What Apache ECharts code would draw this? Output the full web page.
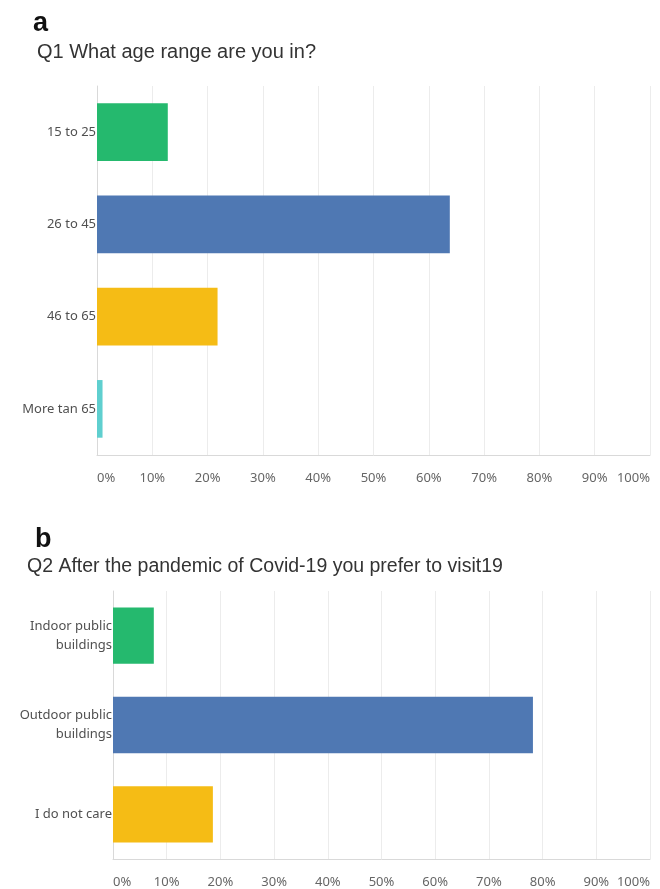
<!DOCTYPE html>
<html>
<head>
<meta charset="utf-8">
<title>Survey responses</title>
<script src="https://cdn.jsdelivr.net/npm/echarts@6/dist/echarts.min.js"></script>
<style>
  html, body { margin: 0; padding: 0; background: #ffffff; }
  #chart { width: 660px; height: 889px; }
</style>
</head>
<body>
<div id="chart"></div>
<script>
// Panel a: age ranges
const ageCategories = ['15 to 25', '26 to 45', '46 to 65', 'More tan 65'];
const ageShares = [12.8, 63.8, 21.8, 1.0];

// Panel b: preferred place to visit
const visitCategories = ['Indoor public\nbuildings', 'Outdoor public\nbuildings', 'I do not care'];
const visitShares = [7.6, 78.2, 18.6];

// Percent tick labels along both x axes
const percentTicks = [0, 10, 20, 30, 40, 50, 60, 70, 80, 90, 100];

const barColors = ['#25b96e', '#4f78b3', '#f5bc15', '#5fcfcf'];

const colored = (values) => values.map((v, i) => ({ value: v, itemStyle: { color: barColors[i] } }));

const labelFont = 'Noto Sans';
const titleFont = 'Liberation Sans';

function valueAxis(gridIndex) {
  return {
    type: 'value',
    gridIndex: gridIndex,
    min: percentTicks[0],
    max: percentTicks[percentTicks.length - 1],
    interval: percentTicks[1] - percentTicks[0],
    axisLine: { show: true, lineStyle: { color: '#d9d9d9', width: 1 } },
    axisTick: { show: false },
    splitLine: { show: true, lineStyle: { color: '#ececec', width: 1 } },
    axisLabel: {
      formatter: '{value}%',
      color: '#666666',
      fontFamily: labelFont,
      fontSize: 13,
      margin: 17,
      alignMinLabel: 'left',
      alignMaxLabel: 'right'
    }
  };
}

function categoryAxis(gridIndex, categories, lineHeight) {
  return {
    type: 'category',
    gridIndex: gridIndex,
    data: categories,
    inverse: true,
    axisLine: { show: true, lineStyle: { color: '#d9d9d9', width: 1 } },
    axisTick: { show: false },
    axisLabel: {
      color: '#505050',
      fontFamily: labelFont,
      fontSize: 13,
      margin: 1,
      lineHeight: lineHeight,
      align: 'right'
    }
  };
}

function heading(text, left, top, size, weight, color) {
  return {
    text: text,
    left: left,
    top: top,
    padding: 0,
    textStyle: { fontFamily: titleFont, fontSize: size, fontWeight: weight, color: color }
  };
}

const chart = echarts.init(document.getElementById('chart'), null, { renderer: 'canvas' });

chart.setOption({
  animation: false,
  backgroundColor: '#ffffff',
  title: [
    heading('a', 33, 10, 27, 'bold', '#111111'),
    heading('Q1 What age range are you in?', 37, 42, 20, 'normal', '#333333'),
    heading('b', 35, 526, 27, 'bold', '#111111'),
    heading('Q2 After the pandemic of Covid-19 you prefer to visit19', 27, 557, 19.5, 'normal', '#333333')
  ],
  grid: [
    { left: 97, right: 10, top: 86, height: 369, containLabel: false },
    { left: 113, right: 10, top: 591, height: 268, containLabel: false }
  ],
  xAxis: [valueAxis(0), valueAxis(1)],
  yAxis: [
    categoryAxis(0, ageCategories, 15),
    categoryAxis(1, visitCategories, 19)
  ],
  series: [
    {
      type: 'bar',
      xAxisIndex: 0,
      yAxisIndex: 0,
      data: colored(ageShares),
      barCategoryGap: '37.5%'
    },
    {
      type: 'bar',
      xAxisIndex: 1,
      yAxisIndex: 1,
      data: colored(visitShares),
      barCategoryGap: '37%'
    }
  ]
});
</script>
</body>
</html>
